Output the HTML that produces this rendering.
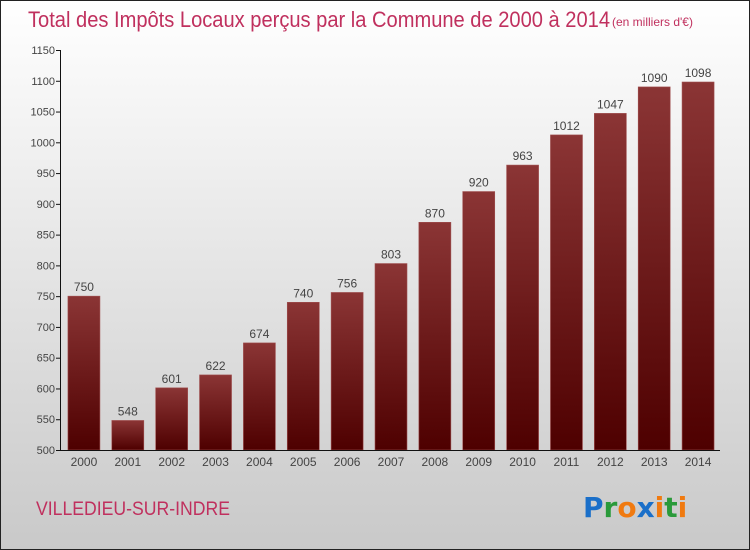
<!DOCTYPE html>
<html><head><meta charset="utf-8"><style>
body{margin:0;background:#fff}
svg{display:block;font-family:"Liberation Sans",sans-serif}
</style></head><body>
<svg id="chart" width="750" height="550">
<defs>
<linearGradient id="bg" x1="0" y1="0" x2="0" y2="1"><stop offset="0" stop-color="#ffffff"/><stop offset="1" stop-color="#c9c9c9"/></linearGradient>
<linearGradient id="barg" x1="0" y1="0" x2="0" y2="1"><stop offset="0" stop-color="#8b3535"/><stop offset="1" stop-color="#4e0000"/></linearGradient>
</defs>
<rect x="0.5" y="0.5" width="749" height="549" fill="url(#bg)" stroke="#222"/>
<text x="28" y="27" font-size="22" fill="#c0305e" textLength="582" lengthAdjust="spacingAndGlyphs">Total des Impôts Locaux perçus par la Commune de 2000 à 2014</text>
<text x="612" y="26" font-size="12" fill="#c0305e">(en milliers d'€)</text>
<g id="grid"></g>
<g id="bars"></g>
<line x1="60.5" y1="50" x2="60.5" y2="451" stroke="#111"/>
<line x1="60" y1="450.5" x2="720" y2="450.5" stroke="#111"/>
<text x="36" y="515" font-size="19" fill="#c0305e" textLength="194" lengthAdjust="spacingAndGlyphs">VILLEDIEU-SUR-INDRE</text>
<g font-size="28" font-weight="bold" font-family="'DejaVu Sans',sans-serif">
<text x="583" y="517"><tspan fill="#1a6fc9">P</tspan><tspan fill="#2a9a3a">r</tspan><tspan fill="#f07a10">o</tspan><tspan fill="#1a6fc9">x</tspan><tspan fill="#f07a10">i</tspan><tspan fill="#2a9a3a">t</tspan><tspan fill="#f07a10">i</tspan></text>
</g>
</svg>
<script>
const years=["2000","2001","2002","2003","2004","2005","2006","2007","2008","2009","2010","2011","2012","2013","2014"];
const values=[750,548,601,622,674,740,756,803,870,920,963,1012,1047,1090,1098];
const yTicks=[500,550,600,650,700,750,800,850,900,950,1000,1050,1100,1150];
const NS="http://www.w3.org/2000/svg";
const x0=62,x1=720,yMin=500,yMax=1150,yB=450,yT=50;
const band=(x1-x0)/years.length,bw=32;
function y(v){return yB-(v-yMin)/(yMax-yMin)*(yB-yT);}
function xc(i){return x0+band*(i+0.5);}
function mk(t,a,p){const e=document.createElementNS(NS,t);for(const k in a)e.setAttribute(k,a[k]);p.appendChild(e);return e;}
const g=document.getElementById('grid'),b=document.getElementById('bars');
yTicks.forEach(v=>{
 const l=mk('line',{x1:56,x2:61,y1:y(v)+0.5,y2:y(v)+0.5,stroke:'#111'},g);
 
 
 const t=mk('text',{x:55,y:y(v)+4,'font-size':11,fill:'#444','text-anchor':'end'},g);
 t.textContent=v;
 
 
});
values.forEach((v,i)=>{
 const r=mk('rect',{x:xc(i)-bw/2,y:y(v),width:bw,height:yB-y(v),fill:'url(#barg)',stroke:'#a05050','stroke-width':0.6},b);
 
 
 const t=mk('text',{x:xc(i),y:y(v)-5,'font-size':12,fill:'#444','text-anchor':'middle'},b);
 t.textContent=v;
 
 
 const xl=mk('text',{x:xc(i),y:466,'font-size':12,fill:'#444','text-anchor':'middle'},b);
 xl.textContent=years[i];
 
 
});
</script>
</body></html>
